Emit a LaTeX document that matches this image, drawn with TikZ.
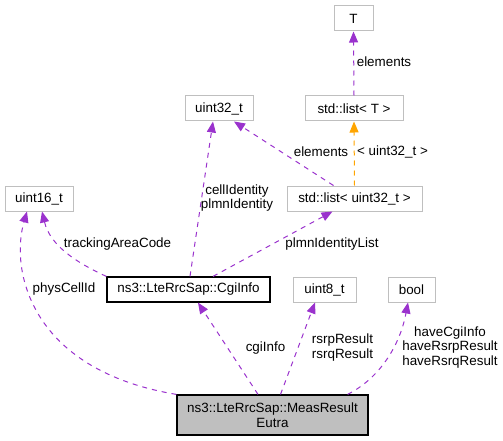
\documentclass[tikz,border=0pt]{standalone}
\usepackage{fontspec}
\setmainfont{Liberation Sans}
\usetikzlibrary{arrows.meta}

\definecolor{edgepurple}{HTML}{9A32CD}
\definecolor{edgeorange}{HTML}{FFA500}
\definecolor{boxgray}{HTML}{BFBFBF}

\begin{document}
\begin{tikzpicture}[x=1pt, y=-1pt, >={Triangle[length=11pt,width=9pt]},
	font=\fontsize{13.4}{14.5}\selectfont,
	cls/.style={draw=boxgray, fill=white, line width=1pt, minimum height=25pt, inner sep=0pt},
	doc/.style={draw=black, fill=white, line width=1.2pt, minimum height=25pt, inner sep=0pt},
	dep/.style={->, edgepurple, line width=1pt, dash pattern=on 5pt off 5pt},
	tmpl/.style={->, edgeorange, line width=1pt, dash pattern=on 5pt off 5pt},
	lbl/.style={align=center, inner sep=0pt}]

	\useasboundingbox (0,0) rectangle (503,441);

	% classes
	\node[cls, minimum width=39pt] (T) at (353.5,18.5) {T};
	\node[cls, minimum width=98pt] (listT) at (354,108.5) {std::list< T >};
	\node[cls, minimum width=68pt] (u32) at (219,108.5) {uint32\_t};
	\node[cls, minimum width=135pt] (listU32) at (354.5,198.5) {std::list< uint32\_t >};
	\node[cls, minimum width=68pt] (u16) at (39,198.5) {uint16\_t};
	\node[doc, minimum width=163pt] (cgi) at (188.5,289.5) {ns3::LteRrcSap::CgiInfo};
	\node[cls, minimum width=63pt] (u8) at (324.5,289.5) {uint8\_t};
	\node[cls, minimum width=47pt] (bool) at (411.5,289.5) {bool};

	% the class itself
	\node[draw=black, fill=boxgray, line width=1.2pt, minimum width=191pt, minimum height=40pt,
		align=center, inner sep=0pt] (eutra) at (272.5,415) {ns3::LteRrcSap::MeasResult\\Eutra};

	% template chain
	\draw[dep] (listT.north) -- (T.south);
	\node[lbl] (lelemT) at (384,62) {elements};

	\draw[tmpl] (listU32.north) -- (listT.south);
	\node[lbl] (ltmpl) at (392.5,152) {< uint32\_t >};

	\draw[dep] ([xshift=-21pt]listU32.north) -- ([xshift=15pt]u32.south);
	\node[lbl] (lelemU) at (321,152) {elements};

	% members of CgiInfo
	\draw[dep] ([xshift=1.5pt]cgi.north) -- ([xshift=-6pt]u32.south);
	\node[lbl] (lcell) at (237,198) {cellIdentity\\plmnIdentity};

	\draw[dep] ([xshift=24.5pt]cgi.north) -- ([xshift=-22pt]listU32.south);
	\node[lbl] (lplmn) at (332,244) {plmnIdentityList};

	\draw[dep] (cgi.north west) .. controls (75,262) and (50,245) .. ([xshift=3pt]u16.south);
	\node[lbl] (ltac) at (117.5,244) {trackingAreaCode};

	% members of MeasResultEutra
	\draw[dep] (eutra.north west) .. controls (30,370) and (10,270) .. ([xshift=-12pt]u16.south);
	\node[lbl] (lphys) at (64,289) {physCellId};

	\draw[dep] ([xshift=-14.5pt]eutra.north) -- ([xshift=9.5pt]cgi.south);
	\node[lbl] (lcgi) at (265.5,348) {cgiInfo};

	\draw[dep] ([xshift=8pt]eutra.north) -- ([xshift=-9.5pt]u8.south);
	\node[lbl] (lrsr) at (342.5,347.5) {rsrpResult\\rsrqResult};

	\draw[dep] ([xshift=-21pt]eutra.north east) .. controls (380,378) and (400,345) .. ([xshift=-3.5pt]bool.south);
	\node[lbl] (lhave) at (450,347.5) {haveCgiInfo\\haveRsrpResult\\haveRsrqResult};

\end{tikzpicture}
\end{document}
